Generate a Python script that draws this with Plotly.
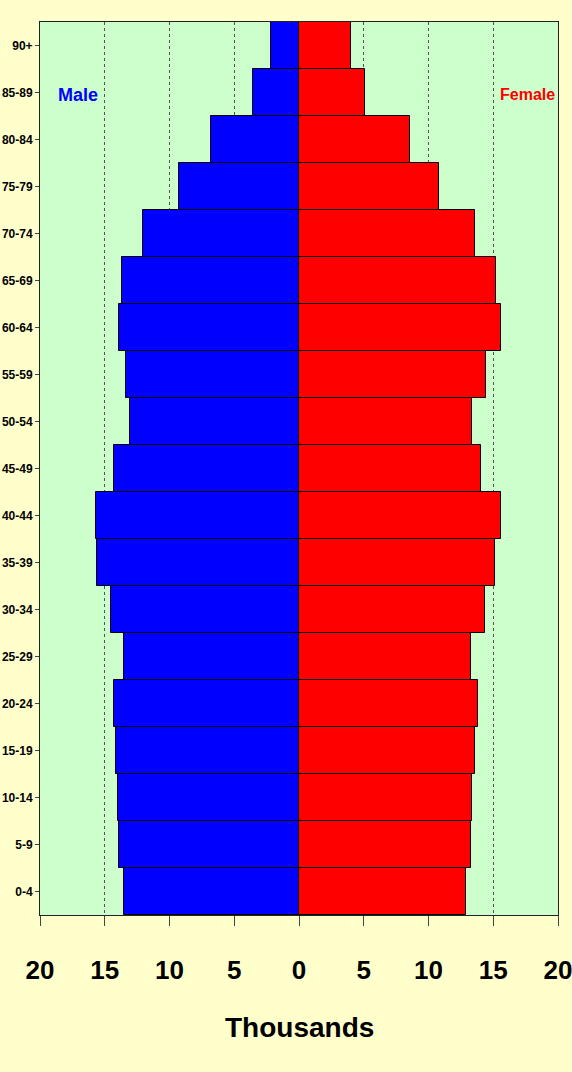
import plotly.graph_objects as go

age_groups = ["0-4", "5-9", "10-14", "15-19", "20-24", "25-29", "30-34", "35-39",
              "40-44", "45-49", "50-54", "55-59", "60-64", "65-69", "70-74",
              "75-79", "80-84", "85-89", "90+"]
male = [13.52, 13.91, 13.99, 14.17, 14.29, 13.52, 14.53, 15.60, 15.68, 14.30,
        13.06, 13.35, 13.91, 13.68, 12.06, 9.23, 6.82, 3.58, 2.14]
female = [12.92, 13.28, 13.33, 13.56, 13.82, 13.28, 14.36, 15.16, 15.57, 14.03,
          13.33, 14.44, 15.57, 15.21, 13.56, 10.81, 8.60, 5.11, 4.03]
tick_vals = [-20, -15, -10, -5, 0, 5, 10, 15, 20]
tick_text = ["20", "15", "10", "5", "0", "5", "10", "15", "20"]

FONT = "Liberation Sans, Arial, sans-serif"

fig = go.Figure()
fig.add_trace(go.Bar(
    y=age_groups, x=[-v for v in male], orientation="h", name="Male",
    marker=dict(color="#0000FF", line=dict(color="black", width=1)),
))
fig.add_trace(go.Bar(
    y=age_groups, x=female, orientation="h", name="Female",
    marker=dict(color="#FF0000", line=dict(color="black", width=1)),
))

fig.update_layout(
    width=572, height=1072,
    margin=dict(l=40, r=14, t=22, b=157),
    paper_bgcolor="#FFFFCC",
    plot_bgcolor="#CCFFCC",
    barmode="relative",
    bargap=0,
    showlegend=False,
    font=dict(family=FONT, color="black"),
    xaxis=dict(
        range=[-20, 20], tickvals=tick_vals, ticktext=tick_text,
        ticks="outside", ticklen=10, tickcolor="#444", tickwidth=1,
        showgrid=True, gridcolor="#555555", griddash="dot", gridwidth=1,
        showline=True, linecolor="#222", linewidth=1, mirror=True,
        zeroline=False, fixedrange=True, automargin=False,
        ticklabeloverflow="allow",
        tickfont=dict(size=26, family=FONT, color="black", weight="bold"),
        ticklabelstandoff=22,
    ),
    yaxis=dict(
        categoryorder="array", categoryarray=age_groups,
        ticks="outside", ticklen=4, tickcolor="#444",
        showline=True, linecolor="#222", linewidth=1, mirror=True,
        showgrid=False, zeroline=False, automargin=False,
        ticklabeloverflow="allow",
        tickfont=dict(size=12, family=FONT, color="black", weight="bold"),
        ticklabelstandoff=0,
    ),
    annotations=[
        dict(text="<b>Thousands</b>", xref="paper", yref="paper",
             x=0.5, y=-112 / 893, xanchor="center", yanchor="middle",
             showarrow=False, font=dict(size=28, family=FONT, color="black")),
        dict(text="<b>Male</b>", xref="paper", yref="paper",
             x=(78 - 40) / 518, y=1 - (95 - 22) / 893, xanchor="center", yanchor="middle",
             showarrow=False, font=dict(size=18, family=FONT, color="#0000FF")),
        dict(text="<b>Female</b>", xref="paper", yref="paper",
             x=(527 - 40) / 518, y=1 - (95 - 22) / 893, xanchor="center", yanchor="middle",
             showarrow=False, font=dict(size=16, family=FONT, color="#FF0000")),
    ],
)

fig.write_html("out.html", config={"displayModeBar": False})

with open("out.html", "r", encoding="utf-8") as f:
    html = f.read()
html = html.replace("<body>", '<body style="margin:0;padding:0;overflow:hidden">', 1)
with open("out.html", "w", encoding="utf-8") as f:
    f.write(html)
